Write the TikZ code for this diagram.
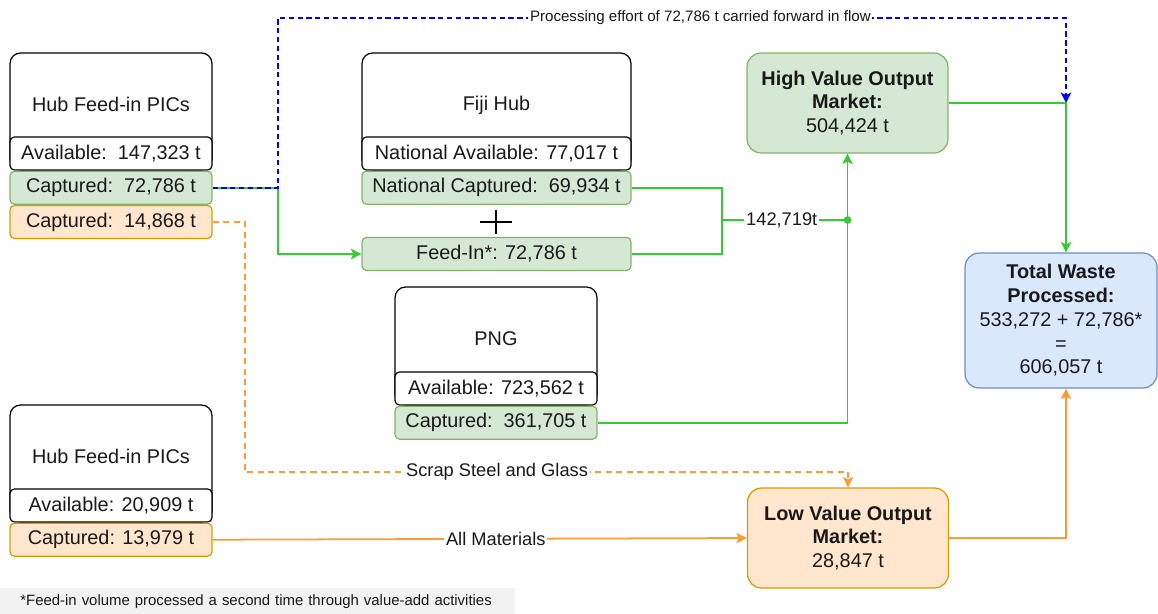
\documentclass[tikz,border=0pt]{standalone}
\usepackage{fontspec}
\setmainfont{Liberation Sans}
\usepackage{xcolor}
\usepackage{tikz}
\usetikzlibrary{arrows.meta,positioning}
\definecolor{flowgreen}{RGB}{51,204,51}
\definecolor{flowblue}{RGB}{0,0,255}
\definecolor{floworange}{RGB}{255,153,51}
\definecolor{gfill}{HTML}{D5E8D4}
\definecolor{gline}{HTML}{82B366}
\definecolor{ofill}{HTML}{FFE6CC}
\definecolor{oline}{HTML}{D79B00}
\definecolor{bfill}{HTML}{DAE8FC}
\definecolor{bline}{HTML}{6C8EBF}
\definecolor{notebg}{HTML}{F2F2F2}

\begin{document}
\begin{tikzpicture}[x=0.02cm, y=-0.02cm,
      every node/.style={font=\fontsize{11.3}{13.5}\selectfont, text=black!90},
      hdr/.style={draw, line width=0.7pt, rounded corners=6pt,
                  minimum width=4.04cm, minimum height=2.34cm},
      avl/.style={draw, line width=0.7pt, fill=white, rounded corners=2.5pt,
                  minimum width=4.04cm, minimum height=0.66cm, inner sep=0pt},
      capg/.style={avl, draw=gline, fill=gfill},
      capo/.style={avl, draw=oline, fill=ofill},
      mkt/.style={draw, line width=0.7pt, rounded corners=8pt,
                  minimum width=4.02cm, minimum height=2cm, align=center},
      lbl/.style={fill=white, inner sep=1pt, font=\fontsize{10.4}{12}\selectfont},
      grn/.style={draw=flowgreen, line width=1pt},
      org/.style={draw=floworange, line width=1pt},
      arr/.style={-{Stealth[length=6pt,width=6pt,inset=1.5pt]}}
  ]
    \useasboundingbox (0,0) rectangle (1158,614);

    % sources
    \node[hdr] (pics1) at (111,111.5) {};
    \node (pics1t) at ([yshift=-1.05cm]pics1.north) {Hub Feed-in PICs};
    \node[avl, anchor=south] (pics1a) at (pics1.south) {Available:\ \ 147,323 t};
    \node[capg, below=0pt of pics1a] (pics1c) {Captured:\ \ 72,786 t};
    \node[capo, below=0pt of pics1c] (pics1d) {Captured:\ \ 14,868 t};

    \node[hdr, minimum width=5.38cm] (fiji) at (496.5,111.5) {};
    \node (fijit) at ([yshift=-1.05cm]fiji.north) {Fiji Hub};
    \node[avl, minimum width=5.38cm, anchor=south] (fijia) at (fiji.south) {National Available: 77,017 t};
    \node[capg, minimum width=5.38cm, below=0pt of fijia] (fijic) {National Captured:\ \ 69,934 t};
    \node[capg, minimum width=5.38cm] (fijif) at (496.5,254) {Feed-In*: 72,786 t};
    \coordinate (plus) at (496,222);
    \draw[line width=1.5pt] (plus) +(-16,0) -- +(16,0) +(0,-12) -- +(0,12);

    \node[hdr, minimum height=2.36cm] (png) at (496,346) {};
    \node (pngt) at ([yshift=-1.05cm]png.north) {PNG};
    \node[avl, anchor=south] (pnga) at (png.south) {Available: 723,562 t};
    \node[capg, below=0pt of pnga] (pngc) {Captured:\ \ 361,705 t};

    \node[hdr] (pics2) at (111,463.5) {};
    \node (pics2t) at ([yshift=-1.05cm]pics2.north) {Hub Feed-in PICs};
    \node[avl, anchor=south] (pics2a) at (pics2.south) {Available: 20,909 t};
    \node[capo, below=0pt of pics2a] (pics2c) {Captured: 13,979 t};

    % markets
    \node[mkt, fill=gfill, draw=gline] (hv) at (847.5,103)
         {\textbf{High Value Output}\\\textbf{Market:}\\504,424 t};
    \node[mkt, fill=ofill, draw=oline] (lv) at (848,538)
         {\textbf{Low Value Output}\\\textbf{Market:}\\28,847 t};
    \node[mkt, fill=bfill, draw=bline, minimum width=3.84cm, minimum height=2.7cm] (tot) at (1061,320.5)
         {\textbf{Total Waste}\\\textbf{Processed:}\\533,272 + 72,786*\\=\\606,057 t};

    \coordinate (fork) at (278,18);
    \coordinate (merge) at (1066,103);
    \coordinate (sum) at (722,220);
    \coordinate (jn) at (hv.south |- sum);
    \coordinate (sbend) at (245,472);

    % flows
    \draw[grn, arr] (pics1c.east) -| (fork |- fijif.west) -- (fijif.west);
    \draw[flowblue, line width=1pt, dash pattern=on 3pt off 2pt, arr] (pics1c.east) -| (fork)
         -- node[pos=0.536, fill=white, inner sep=1pt, font=\fontsize{8.6}{10}\selectfont]
            {Processing effort of 72,786 t carried forward in flow} (fork -| merge) -- (merge);
    \draw[grn] (fijic.east) -| (sum) |- (fijif.east);
    \draw[grn] (sum) -- node[lbl, pos=0.476] {142,719t} (jn);
    \draw[grn] (pngc.east) -| (jn);
    \draw[grn, arr] (jn) -- (hv.south);
    \fill[flowgreen] (jn) circle (2.2pt);
    \draw[grn, arr] (hv.east) -- (merge) -- (merge |- tot.north);

    \draw[org, dash pattern=on 3.5pt off 2.5pt, arr] (pics1d.east) -| (sbend)
         -- node[lbl, pos=0.418] {Scrap Steel and Glass} (sbend -| lv.north) -- (lv.north);
    \draw[org, arr] (pics2c.east) -- node[lbl, pos=0.53] {All Materials} (lv.west);
    \draw[org, arr] (lv.east) -| (merge |- tot.south);

    \node[fill=notebg, anchor=north west, minimum height=0.52cm,
          inner xsep=0.4cm, text width=9.5cm, align=left,
          font=\fontsize{8.5}{10}\selectfont] (note) at (0,588)
         {*Feed-in volume processed a second time through value-add activities};
\end{tikzpicture}
\end{document}
